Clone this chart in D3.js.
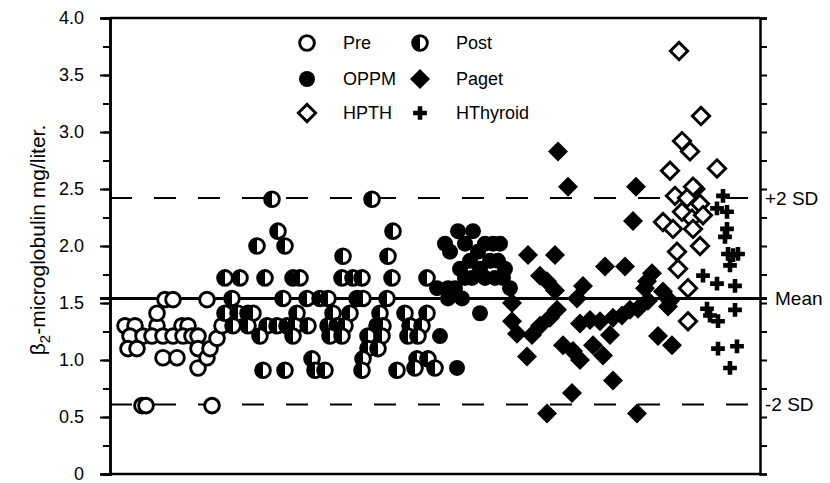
<!DOCTYPE html>
<html>
<head>
<meta charset="utf-8">
<script src="https://cdn.jsdelivr.net/npm/d3@7"></script>
<style>
  body { margin: 0; background: #fff; }
  text { font-family: "Liberation Sans", Arial, Helvetica, sans-serif; fill: #000; }
</style>
</head>
<body>
<div id="chart"></div>
<script>
// x is just the order of the subjects along the plot (no axis labels)
const pre = [[3,1.30],[5,1.30],[9.4,1.30],[14.4,1.30],[15.6,1.30],[4,1.21],[6.6,1.21],[8.4,1.21],
  [10.6,1.21],[12.6,1.21],[14.6,1.21],[16.4,1.21],[17.6,1.21],[3.6,1.10],[5.4,1.10],[17.6,1.10],
  [10.6,1.02],[13.4,1.02],[17.6,0.93],[9.4,1.41],[11,1.53],[12.6,1.53],[19.4,1.53],[19.4,1.02],
  [20,1.10],[21.4,1.19],[22.4,1.30],[6.4,0.60],[7.2,0.60],[20.4,0.60]];

const post = [[32.4,2.41],[33.6,2.13],[29.4,2.0],[35,2.0],[23,1.72],[26,1.72],[31,1.72],[36.6,1.72],
  [38,1.72],[24.4,1.54],[34.6,1.54],[23,1.41],[25.6,1.41],[27.6,1.41],[28.6,1.41],[37.4,1.41],
  [24.6,1.30],[27.6,1.30],[31.4,1.30],[33.4,1.30],[35.4,1.30],[37,1.30],[30,1.21],[36.6,1.21],
  [30.6,0.91],[35,0.91],[52.4,2.41],[56.6,2.13],[46.6,1.91],[55.6,1.91],[46.4,1.72],[48.6,1.72],
  [50.4,1.72],[56.4,1.72],[39.4,1.54],[42,1.54],[43.6,1.54],[49.4,1.54],[50.6,1.54],[55.4,1.54],
  [44.6,1.41],[48,1.41],[54,1.41],[39.6,1.30],[43.6,1.30],[45.4,1.30],[47,1.30],[53.4,1.30],
  [54.6,1.30],[44,1.21],[46.4,1.21],[51.6,1.21],[54.4,1.21],[51.6,1.10],[53.6,1.10],[50.6,1.01],
  [40.4,1.01],[41,0.91],[43,0.91],[50.4,0.91],[57.4,0.91],[59,1.41],[63.4,1.41],[60,1.30],
  [62.4,1.30],[59.6,1.21],[61.6,1.21],[61.4,1.01],[63.6,1.01],[61,0.93],[65,0.93],[63.4,1.72]];

const oppm = [[67,2.02],[68,1.95],[69.6,2.13],[72.6,2.13],[71,2.02],[72,1.87],[73.6,1.95],[75,2.02],
  [76.6,2.02],[78,2.02],[76,1.87],[77.6,1.87],[79,1.80],[74,1.80],[72.4,1.72],[75,1.72],[77,1.72],
  [78.6,1.72],[71,1.72],[70,1.80],[69,1.63],[67.6,1.63],[65.4,1.63],[70.4,1.54],[67.6,1.54],
  [80,1.63],[74,1.41],[66,1.21],[69.4,0.93]];

const paget = [[89.6,2.83],[91.6,2.52],[105.2,2.52],[104.6,2.22],[83.6,1.92],[89,1.92],[99,1.82],
  [103,1.82],[86,1.74],[87.4,1.69],[89,1.61],[94.6,1.65],[93.4,1.54],[80.4,1.50],[89.4,1.44],
  [88,1.37],[86,1.30],[84.4,1.22],[80.4,1.34],[81.4,1.23],[94,1.32],[96,1.35],[98,1.34],
  [100.6,1.37],[102.4,1.39],[104,1.44],[100,1.22],[90.6,1.13],[92.6,1.08],[94,1.00],[96.6,1.13],
  [98.6,1.04],[83.4,1.03],[100.6,0.82],[92.4,0.71],[87.4,0.53],[105.4,0.53],[108.4,1.76],
  [107.4,1.69],[107,1.63],[110.6,1.60],[112,1.52],[111.6,1.47],[107.6,1.52],[105.6,1.45],
  [109.6,1.21],[112.4,1.13],[117.2,2.50]];

const hpth = [[113.8,3.71],[118.2,3.14],[114.4,2.92],[116,2.83],[112,2.66],[121.4,2.68],[116.6,2.52],
  [113,2.44],[115.4,2.42],[118,2.37],[114.4,2.30],[116.4,2.24],[118.6,2.27],[110.6,2.21],
  [112.6,2.15],[116.6,2.15],[118,2.00],[113.4,1.95],[113.6,1.80],[115.6,1.63],[115.6,1.34]];

const hthyroid = [[122.6,2.44],[121.4,2.33],[123.4,2.30],[123.4,2.15],[123,2.08],[123.6,1.93],
  [124.6,1.92],[125.6,1.93],[124,1.83],[118.6,1.74],[121.4,1.67],[125,1.65],[119.4,1.45],
  [120,1.39],[121.6,1.34],[125,1.44],[121.6,1.10],[125.4,1.12],[124,0.93]];

const refLines = [{ v: 2.42, label: "+2 SD", dash: true }, { v: 1.54, label: "Mean", dash: false },
  { v: 0.61, label: "-2 SD", dash: true }];
const majorTicks = [0, 0.5, 1, 1.5, 2, 2.5, 3, 3.5, 4];
const minorTicks = d3.range(0, 4.01, 0.25);

const W = 830, H = 483;
const x = d3.scaleLinear().domain([0, 130]).range([110, 760]);
const y = d3.scaleLinear().domain([0, 4]).range([474, 18]);

const svg = d3.select("#chart").append("svg").attr("width", W).attr("height", H);

// frame top / bottom
svg.selectAll(".frame").data([0, 4]).join("line")
  .attr("x1", x(0)).attr("x2", x(130)).attr("y1", d => y(d)).attr("y2", d => y(d))
  .attr("stroke", "#000").attr("stroke-width", 2.5);

// left axis
const left = svg.append("g").attr("transform", `translate(${x(0)},0)`);
left.call(d3.axisLeft(y).tickValues(minorTicks).tickSize(7).tickFormat(""));
left.call(g => g.selectAll(".tick line").attr("stroke-width", 2));
const leftMaj = svg.append("g").attr("transform", `translate(${x(0)},0)`)
  .call(d3.axisLeft(y).tickValues(majorTicks).tickSize(10).tickPadding(16)
    .tickFormat(d => d === 0 ? "0" : d3.format(".1f")(d)));
leftMaj.selectAll(".tick line").attr("stroke-width", 2);
leftMaj.selectAll("text").style("font-size", "18px").style("font-family", "Liberation Sans, Arial, sans-serif");
svg.selectAll(".domain").attr("stroke-width", 2.5);

// right axis
const right = svg.append("g").attr("transform", `translate(${x(130)},0)`)
  .call(d3.axisRight(y).tickValues(minorTicks).tickSize(7).tickFormat(""));
right.selectAll(".tick line").attr("stroke-width", 2);
right.select(".domain").attr("stroke-width", 2.5);

// reference lines
refLines.forEach(r => {
  svg.append("line")
    .attr("x1", r.dash ? x(0) : x(0) - 10).attr("x2", r.dash ? x(127.6) : x(130) + 7)
    .attr("y1", y(r.v)).attr("y2", y(r.v))
    .attr("stroke", "#000").attr("stroke-width", r.dash ? 2 : 3)
    .attr("stroke-dasharray", r.dash ? "22,22" : null);
  svg.append("text").attr("x", r.dash ? 765 : 775).attr("y", y(r.v)).attr("dy", "0.35em")
    .style("font-size", "19px").text(r.label);
});

// y title
const title = svg.append("text").attr("transform", "translate(45,240) rotate(-90)")
  .attr("text-anchor", "middle").style("font-size", "21px");
title.append("tspan").text("β");
title.append("tspan").attr("dy", 5).style("font-size", "15px").text("2");
title.append("tspan").attr("dy", -5).text("-microglobulin mg/liter.");

// markers
const circ = d3.symbol(d3.symbolCircle, 170)();
const diamond = d3.symbol(d3.symbolSquare, 200)();
const diamondOpen = d3.symbol(d3.symbolSquare, 150)();
const cross = d3.symbol(d3.symbolCross, 105)();
const halfLeft = "M0,-6.6A6.6,6.6 0 0,0 0,6.6Z";

function drawPre(g) {
  g.append("path").attr("d", circ).attr("fill", "#fff").attr("stroke", "#000").attr("stroke-width", 2.9);
}
function drawPost(g) {
  g.append("path").attr("d", circ).attr("fill", "#fff").attr("stroke", "#000").attr("stroke-width", 2.9);
  g.append("path").attr("d", halfLeft).attr("fill", "#000");
}
function drawOppm(g) {
  g.append("path").attr("d", d3.symbol(d3.symbolCircle, 200)()).attr("fill", "#000");
}
function drawPaget(g) {
  g.append("path").attr("d", diamond).attr("transform", "rotate(45)").attr("fill", "#000");
}
function drawHpth(g) {
  g.append("path").attr("d", diamondOpen).attr("transform", "rotate(45)")
    .attr("fill", "#fff").attr("stroke", "#000").attr("stroke-width", 2.9);
}
function drawThy(g) {
  g.append("path").attr("d", cross).attr("fill", "#000");
}

const groups = [
  { name: "Pre", data: pre, draw: drawPre },
  { name: "Post", data: post, draw: drawPost },
  { name: "OPPM", data: oppm, draw: drawOppm },
  { name: "Paget", data: paget, draw: drawPaget },
  { name: "HPTH", data: hpth, draw: drawHpth },
  { name: "HThyroid", data: hthyroid, draw: drawThy }
];

groups.forEach(gr => {
  svg.append("g").selectAll("g").data(gr.data).join("g")
    .attr("transform", d => `translate(${x(d[0])},${y(d[1])})`)
    .each(function () { gr.draw(d3.select(this)); });
});

// legend
const legPos = [[307, 43], [420, 43], [307, 79], [420, 79], [307, 113], [420, 113]];
groups.forEach((gr, i) => {
  const g = svg.append("g").attr("transform", `translate(${legPos[i][0]},${legPos[i][1]})`);
  gr.draw(g);
  svg.append("text").attr("x", legPos[i][0] + 36).attr("y", legPos[i][1]).attr("dy", "0.35em")
    .style("font-size", "18px").text(gr.name);
});
</script>
</body>
</html>
